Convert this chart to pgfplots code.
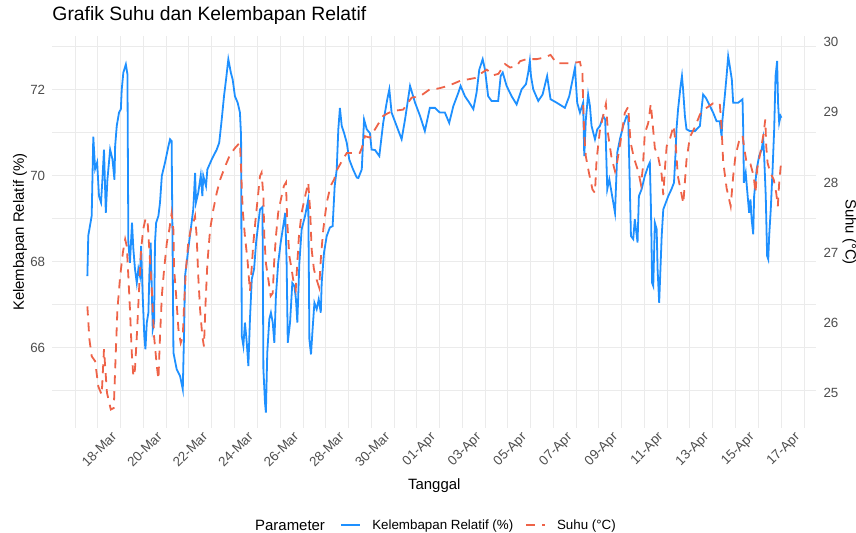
\documentclass[border=0pt]{standalone}
\usepackage{fontspec}
\setmainfont{Liberation Sans}
\usepackage{pgfplots}
\usepackage{pgfplotstable}
\pgfplotsset{compat=1.18}
\definecolor{rhblue}{RGB}{30,144,255}
\definecolor{tred}{RGB}{238,99,72}
\definecolor{gridc}{RGB}{235,235,235}
\definecolor{tickc}{RGB}{77,77,77}
\newcommand\fs[1]{\fontsize{#1}{#1}\selectfont}

\pgfplotstableread{
d rh
0.54 67.66
0.58 68.60
0.73 69.06
0.80 70.90
0.88 70.15
0.97 70.30
1.05 69.52
1.14 69.37
1.20 69.90
1.27 70.60
1.35 69.13
1.42 69.90
1.54 70.60
1.64 70.38
1.73 69.90
1.76 70.68
1.83 71.15
1.93 71.46
2.01 71.54
2.05 72.00
2.12 72.39
2.23 72.58
2.30 72.35
2.34 68.44
2.41 67.97
2.50 68.90
2.56 68.29
2.63 67.83
2.71 67.50
2.78 67.83
2.85 67.66
2.90 68.36
2.97 67.20
3.04 66.27
3.09 65.96
3.15 66.58
3.22 66.81
3.26 67.66
3.32 68.44
3.37 67.35
3.41 66.42
3.47 66.58
3.51 68.44
3.56 68.90
3.66 69.06
3.73 69.37
3.81 69.99
3.95 70.30
4.10 70.68
4.17 70.84
4.24 70.80
4.29 67.82
4.32 65.88
4.46 65.50
4.61 65.34
4.73 65.03
4.79 66.42
4.83 67.66
4.97 68.28
5.08 68.75
5.19 69.21
5.27 70.06
5.31 69.37
5.41 69.60
5.52 70.00
5.59 69.52
5.63 69.99
5.75 69.75
5.81 70.14
6.00 70.37
6.22 70.60
6.33 70.76
6.44 71.30
6.54 71.84
6.63 72.23
6.73 72.70
6.84 72.39
6.92 72.23
7.02 71.84
7.14 71.69
7.24 71.46
7.29 70.91
7.32 66.27
7.39 66.04
7.46 66.58
7.54 66.11
7.61 65.57
7.68 66.66
7.76 67.59
7.86 67.82
7.95 68.44
8.05 68.90
8.12 69.21
8.23 69.27
8.27 65.50
8.34 64.72
8.38 64.49
8.44 65.88
8.53 66.66
8.60 66.81
8.68 66.58
8.75 66.11
8.82 67.20
8.92 67.97
9.03 68.44
9.14 68.82
9.23 69.13
9.29 67.97
9.34 66.11
9.44 66.58
9.54 67.50
9.63 67.43
9.70 67.12
9.76 66.58
9.85 67.97
9.95 68.75
10.10 69.06
10.24 69.44
10.29 66.19
10.36 65.84
10.43 66.42
10.51 67.04
10.61 66.89
10.70 67.12
10.79 66.81
10.83 67.50
10.93 68.20
11.05 68.59
11.19 68.79
11.31 68.82
11.40 69.75
11.49 70.14
11.56 71.07
11.63 71.57
11.71 71.15
11.81 70.99
11.93 70.76
12.04 70.37
12.20 70.15
12.37 69.95
12.44 69.94
12.59 70.14
12.69 71.30
12.81 71.07
12.95 70.98
13.02 70.60
13.17 70.59
13.36 70.45
13.53 71.22
13.71 71.77
13.80 72.00
13.90 71.46
14.12 71.15
14.34 70.84
14.49 71.30
14.71 72.08
14.93 71.69
15.15 71.38
15.36 71.03
15.58 71.57
15.80 71.57
16.02 71.46
16.24 71.46
16.43 71.22
16.61 71.61
16.83 71.92
16.93 72.08
17.12 71.84
17.30 71.70
17.49 71.54
17.63 71.92
17.75 72.46
17.90 72.70
18.00 72.46
18.14 71.84
18.29 71.73
18.58 71.73
18.69 72.31
18.78 72.39
18.95 72.08
19.17 71.84
19.39 71.65
19.61 72.00
19.80 72.12
19.90 72.39
19.97 72.66
20.02 72.31
20.12 72.00
20.34 71.73
20.53 71.88
20.73 72.31
20.88 71.77
21.15 71.69
21.51 71.57
21.70 71.84
21.85 72.23
21.95 72.50
22.05 71.69
22.17 71.46
22.31 71.69
22.36 70.45
22.43 71.30
22.53 71.88
22.61 71.61
22.68 71.15
22.83 70.84
22.93 71.07
23.05 71.15
23.19 71.38
23.28 71.30
23.37 69.68
23.46 69.91
23.56 69.60
23.71 69.13
23.81 70.53
23.93 70.85
24.07 71.15
24.22 71.38
24.29 71.36
24.36 69.75
24.41 68.59
24.51 68.52
24.58 68.98
24.70 68.44
24.76 69.52
24.88 69.68
25.02 69.99
25.17 70.22
25.24 70.30
25.29 69.21
25.34 67.50
25.39 67.43
25.46 68.90
25.54 68.75
25.58 67.82
25.65 67.04
25.76 68.59
25.83 69.21
26.05 69.52
26.19 69.68
26.30 69.83
26.37 70.53
26.41 71.07
26.48 71.54
26.59 72.08
26.65 72.31
26.70 72.00
26.78 71.38
26.85 71.07
27.00 71.03
27.22 71.03
27.44 71.15
27.51 71.54
27.58 71.88
27.70 71.80
27.88 71.61
28.02 71.46
28.17 71.26
28.31 71.26
28.39 70.91
28.43 71.30
28.53 71.84
28.61 72.31
28.68 72.77
28.75 72.54
28.84 72.23
28.90 71.69
29.12 71.69
29.31 71.77
29.34 71.07
29.37 69.83
29.45 70.06
29.51 69.68
29.60 69.13
29.66 69.44
29.71 68.98
29.78 68.63
29.82 69.52
29.93 70.14
30.04 70.45
30.15 70.60
30.22 70.84
30.26 70.45
30.33 69.52
30.39 68.13
30.44 68.05
30.48 68.59
30.55 69.21
30.63 70.14
30.70 71.07
30.76 72.31
30.83 72.66
30.87 71.69
30.92 71.22
30.98 71.38
31.02 71.34
}\rhdata

\pgfplotstableread{
d t
0.54 26.23
0.63 25.76
0.73 25.52
0.88 25.45
1.02 25.09
1.17 24.97
1.27 25.62
1.40 25.00
1.57 24.76
1.70 24.78
1.76 25.33
1.86 26.19
1.98 26.66
2.10 27.00
2.20 27.19
2.27 27.09
2.34 26.66
2.41 26.19
2.49 25.57
2.56 25.23
2.63 25.33
2.71 25.80
2.81 26.47
2.90 27.04
2.99 27.33
3.10 27.49
3.19 27.42
3.26 27.04
3.37 26.47
3.47 25.80
3.59 25.38
3.66 25.19
3.73 25.80
3.81 26.38
3.91 26.76
4.03 27.14
4.14 27.33
4.24 27.56
4.32 27.32
4.35 26.76
4.44 26.38
4.54 25.90
4.64 25.71
4.73 25.80
4.79 26.28
4.87 26.76
4.97 27.14
5.08 27.33
5.19 27.42
5.27 27.52
5.34 27.23
5.41 26.66
5.49 26.19
5.59 25.80
5.66 25.66
5.73 26.28
5.81 26.85
5.93 27.33
6.07 27.61
6.22 27.85
6.37 28.04
6.59 28.23
6.81 28.40
7.02 28.49
7.24 28.57
7.29 28.19
7.36 27.61
7.46 27.23
7.57 26.90
7.68 26.45
7.76 26.80
7.83 27.14
7.94 27.52
8.03 27.80
8.12 28.09
8.19 28.14
8.27 27.80
8.31 27.23
8.38 26.85
8.49 26.61
8.59 26.38
8.68 26.42
8.74 26.85
8.82 27.23
8.92 27.57
9.04 27.76
9.17 27.95
9.26 28.00
9.32 27.42
9.41 26.95
9.51 26.76
9.58 26.61
9.69 26.47
9.76 26.85
9.83 27.23
9.95 27.57
10.10 27.80
10.24 28.00
10.32 27.61
10.39 27.04
10.49 26.76
10.61 26.61
10.72 26.50
10.80 26.95
10.90 27.33
11.05 27.71
11.22 27.95
11.37 28.04
11.52 28.19
11.71 28.30
11.93 28.42
12.07 28.42
12.50 28.42
12.59 28.49
12.73 28.66
12.95 28.64
13.53 28.95
13.75 28.99
13.97 29.02
14.41 29.04
14.78 29.21
15.15 29.23
15.58 29.33
15.95 29.34
16.40 29.38
16.91 29.45
17.56 29.49
17.75 29.54
18.08 29.61
18.37 29.53
18.59 29.55
18.88 29.69
19.10 29.64
19.39 29.66
19.54 29.73
19.83 29.76
20.27 29.76
20.58 29.78
20.88 29.82
21.15 29.70
21.74 29.70
22.17 29.72
22.28 29.56
22.31 29.16
22.36 28.68
22.43 28.37
22.57 28.13
22.72 27.90
22.83 27.85
22.90 28.32
23.05 28.75
23.19 28.95
23.31 29.12
23.41 28.68
23.56 28.35
23.71 28.16
23.81 28.30
23.96 28.60
24.14 28.99
24.29 29.08
24.39 28.58
24.54 28.35
24.73 28.16
24.85 27.97
24.93 28.20
25.02 28.70
25.17 28.85
25.28 29.12
25.36 28.85
25.46 28.49
25.61 28.36
25.76 28.11
25.83 27.82
25.91 28.23
25.98 28.52
26.13 28.63
26.28 28.81
26.37 28.57
26.47 28.09
26.59 27.90
26.71 27.70
26.85 28.32
27.00 28.65
27.22 28.79
27.44 28.97
27.58 29.03
28.02 29.13
28.31 29.13
28.39 28.78
28.46 28.30
28.61 27.92
28.79 27.66
28.90 28.09
29.00 28.38
29.15 28.58
29.31 28.67
29.38 28.50
29.50 28.26
29.66 28.26
29.80 28.09
29.88 27.85
29.95 28.19
30.09 28.42
30.24 28.71
30.31 28.90
30.35 28.52
30.41 28.28
30.53 28.14
30.68 28.04
30.79 27.85
30.86 27.66
30.92 27.99
31.00 28.28
}\tdata

\begin{document}
\begin{tikzpicture}
\pgfplotsset{
  common/.style={
    scale only axis, width=764bp, height=392bp,
    xmin=-1.0, xmax=32.55,
    axis line style={draw=none},
    major tick length=0pt, minor tick length=0pt,
    /pgf/number format/assume math mode=true,
    ticklabel style={font=\fs{13.4}, text=tickc, inner sep=0pt},
  }
}
\begin{axis}[common,
  ymin=64.13, ymax=73.24,
  xtick={1,3,...,31},
  xticklabels={18-Mar,20-Mar,22-Mar,24-Mar,26-Mar,28-Mar,30-Mar,01-Apr,03-Apr,05-Apr,07-Apr,09-Apr,11-Apr,13-Apr,15-Apr,17-Apr},
  minor xtick={0,2,...,32},
  ytick={66,68,70,72},
  minor ytick={65,67,69,71,73},
  grid=both,
  major grid style={gridc, line width=0.9bp},
  minor grid style={gridc, line width=0.5bp},
  xticklabel style={rotate=45, anchor=north east, xshift=7bp, yshift=-11bp},
  yticklabel style={xshift=-7bp},
  xlabel={Tanggal},
  xlabel style={at={(axis description cs:0.5,-0.1564)}, anchor=base, font=\fs{15}},
  ylabel={Kelembapan Relatif (\%)},
  ylabel style={at={(axis description cs:-0.0423,0.5)}, anchor=center, font=\fs{15}},
  title={Grafik Suhu dan Kelembapan Relatif},
  title style={at={(axis description cs:0,1)}, anchor=base west, yshift=9.3bp, inner sep=0pt, font=\fs{19.4}},
]
\addplot[rhblue, line width=1.8bp] table[x=d, y=rh] {\rhdata};
\end{axis}
\begin{axis}[common,
  clip mode=individual,
  ymin=24.496, ymax=30.09,
  axis y line*=right,
  hide x axis,
  ytick={25,26,27,28,29,30},
  yticklabel style={xshift=7bp},
  ylabel={Suhu (°C)},
  ylabel style={rotate=180, at={(axis description cs:1.0435,0.5)}, anchor=center, font=\fs{15}},
  legend columns=2,
  legend style={draw=none, fill=none, inner sep=0pt, outer sep=0pt,
    at={(axis description cs:0.3772,-0.2474)}, anchor=west,
    font=\fs{13.4}, nodes={inner sep=0pt},
    /tikz/every odd column/.append style={column sep=11bp},
    /tikz/every even column/.append style={column sep=12bp}},
  legend image code/.code={\draw[#1] (0bp,0bp) -- (19bp,0bp);},
]
\addlegendimage{rhblue, line width=1.8bp}
\addlegendentry{Kelembapan Relatif (\%)}
\addplot[tred, line width=1.8bp, dash pattern=on 9bp off 7bp] table[x=d, y=t] {\tdata};
\addlegendentry{Suhu (°C)}
\node[anchor=base west, inner sep=0pt, font=\fs{15}] at (axis description cs:0.2653,-0.2615) {Parameter};
\end{axis}
\pgfresetboundingbox
\path[use as bounding box] (-52.3bp,-105bp) rectangle (803.7bp,428bp);
\end{tikzpicture}
\end{document}
